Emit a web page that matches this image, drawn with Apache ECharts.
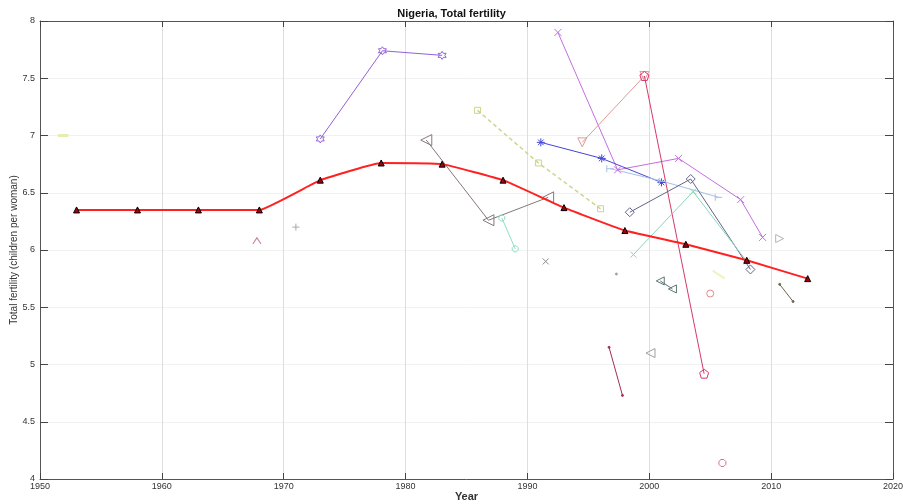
<!DOCTYPE html>
<html><head><meta charset="utf-8">
<script src="https://cdn.jsdelivr.net/npm/echarts@6/dist/echarts.min.js"></script>
<style>html,body{margin:0;padding:0;background:#fff}#c{width:903px;height:504px}</style>
</head><body><div id="c"></div>
<script>
// ---- data ----
const xTicks = [1950,1960,1970,1980,1990,2000,2010,2020];
const yTicks = [4,4.5,5,5.5,6,6.5,7,7.5,8];
const wppYears = [1953,1958,1963,1968,1973,1978,1983,1988,1993,1998,2003,2008,2013];
const wppTFR   = [6.35,6.35,6.35,6.35,6.61,6.76,6.75,6.61,6.37,6.17,6.05,5.91,5.75];
const purpleHex  = [[1973.0,6.97],[1978.1,7.74],[1983.0,7.70]];
const oliveDash  = [[1985.9,7.22],[1990.9,6.76],[1996.0,6.36]];
const limeEarly  = [[1951.9,7.00]];
const grayTri    = [[1981.7,6.96],[1986.8,6.26],[1991.7,6.46]];
const tealShort  = [[1987.9,6.28],[1989.0,6.01]];
const grayX      = [[1991.5,5.90]];
const grayPlus   = [[1971.0,6.20]];
const pinkChev   = [[1967.8,6.08]];
const violetX    = [[1992.5,7.90],[1997.4,6.70],[2002.4,6.80],[2007.5,6.44],[2009.3,6.11]];
const blueStar   = [[1991.1,6.94],[1996.1,6.80],[2001.0,6.59]];
const salmonLine = [[1994.5,6.94],[1999.6,7.52]];
const crimsonLine= [[1999.6,7.52],[2004.5,4.92]];
const lightBlue  = [[1996.8,6.71],[2001.1,6.60],[2005.7,6.46]];
const slateLine  = [[1998.4,6.33],[2003.4,6.62],[2008.3,5.83]];
const tealLine   = [[1998.7,5.96],[2003.6,6.51],[2008.0,5.90]];
const grayTriR   = [[2010.7,6.10]];
const oliveShort = [[2010.7,5.70],[2011.8,5.55]];
const darkRed    = [[1996.7,5.15],[1997.8,4.73]];
const grayTriL2  = [[2000.1,5.10]];
const slateTeal  = [[2000.9,5.73],[2001.9,5.66]];
const salmonCirc = [[2005.0,5.62]];
const roseStar   = [[2006.0,4.14]];
const limeFaint  = [[2005.2,5.82],[2006.2,5.75]];
const grayDot    = [[1997.3,5.79]];

// ---- symbols ----
const SYM = {
  hex: 'path://M0,-10L2.9,-5L8.7,-5L5.8,0L8.7,5L2.9,5L0,10L-2.9,5L-8.7,5L-5.8,0L-8.7,-5L-2.9,-5Z',
  x: 'path://M-5,-5L5,5M5,-5L-5,5',
  plus: 'path://M0,-5L0,5M-5,0L5,0',
  star: 'path://M0,-5L0,5M-5,0L5,0M-3.5,-3.5L3.5,3.5M3.5,-3.5L-3.5,3.5',
  triL: 'path://M-5,0L5,-4L5,4Z',
  triR: 'path://M5,0L-5,-4L-5,4Z',
  triD: 'path://M-5,-4L5,-4L0,5Z',
  chev: 'path://M-4,3L0,-3L4,3',
  tick: 'path://M-4,0L4,0M-4,-4L-4,4',
  pent: 'path://M0,-5L4.8,-1.5L3,4L-3,4L-4.8,-1.5Z',
  oct: 'path://M-2,-5L2,-5L5,-2L5,2L2,5L-2,5L-5,2L-5,-2Z'
};

function mk(data, color, symbol, size, opt) {
  opt = opt || {};
  return {
    type: 'line', data: data, symbol: symbol, symbolSize: size,
    showSymbol: true, silent: true, animation: false,
    lineStyle: { color: color, width: opt.width || 1, type: opt.dash || 'solid', opacity: opt.op || 1 },
    itemStyle: { color: opt.fill || 'rgba(0,0,0,0)', borderColor: color, borderWidth: 1, opacity: opt.op || 1 },
    z: opt.z || 2
  };
}

const series = [
  mk(limeEarly, '#e4eeb0', 'rect', [7,2], {fill:'#e4eeb0'}),
  mk(purpleHex, '#9260d8', SYM.hex, 8),
  mk(oliveDash, '#cdd58a', 'rect', 6, {dash:[4,3], width:1.5}),
  mk(grayTri, '#857878', SYM.triL, 11),
  mk(tealShort, '#8fe0c4', SYM.oct, 6),
  mk(grayX, '#8c8c8c', SYM.x, 6),
  mk(grayPlus, '#a8a8a8', SYM.plus, 7),
  mk(pinkChev, '#c878a8', SYM.chev, [8,6]),
  mk(violetX, '#c46ee0', SYM.x, 7),
  mk(blueStar, '#4545d6', SYM.star, 8),
  mk(salmonLine, '#e09a9a', SYM.triD, 9),
  mk(crimsonLine, '#d8386a', SYM.pent, 9),
  mk(lightBlue, '#a9bfe8', SYM.tick, 7),
  mk(slateLine, '#64648e', 'diamond', 9),
  mk(tealLine, '#86d8b6', SYM.x, 6),
  mk(grayTriR, '#b4b4b4', SYM.triR, 8),
  mk(oliveShort, '#6e6450', 'circle', 2, {fill:'#6e6450'}),
  mk(darkRed, '#a03050', 'circle', 2, {fill:'#a03050'}),
  mk(grayTriL2, '#a0a0a0', SYM.triL, 9),
  mk(slateTeal, '#5e7676', SYM.triL, 8),
  mk(salmonCirc, '#e08a8a', 'circle', 7),
  mk(roseStar, '#d07090', SYM.oct, 7),
  mk(limeFaint, '#eef4c0', 'none', 1, {width:2}),
  mk(grayDot, '#a0a0a0', 'circle', 2, {fill:'#a0a0a0'}),
  {
    type: 'line', data: wppYears.map((y,i)=>[y, wppTFR[i]]),
    symbol: 'triangle', symbolSize: 6, smooth: 0.1, silent: true, animation: false,
    lineStyle: { color: '#ff2020', width: 2 },
    itemStyle: { color: '#a00010', borderColor: '#000', borderWidth: 1 },
    z: 5
  }
];

const font = 'Liberation Sans, Arial, sans-serif';
const chart = echarts.init(document.getElementById('c'), null, {renderer:'canvas'});
chart.setOption({
  animation: false,
  backgroundColor: '#fff',
  title: { text: 'Nigeria, Total fertility', left: 'center', top: 3,
    textStyle: { fontFamily: font, fontSize: 11, fontWeight: 'bold', color: '#111' } },
  grid: { left: 40, right: 10, top: 21, bottom: 25, containLabel: false, outerBoundsMode: 'none' },
  xAxis: [{
    type: 'value', min: xTicks[0], max: xTicks[xTicks.length-1], interval: 10,
    name: 'Year', nameLocation: 'middle', nameGap: 12, nameMoveOverlap: false,
    nameTextStyle: { fontFamily: font, fontSize: 11, fontWeight: 'bold', color: '#333' },
    axisLine: { lineStyle: { color: '#555', width: 1 } },
    axisTick: { inside: true, length: 6, lineStyle: { color: '#444' } },
    axisLabel: { fontFamily: font, fontSize: 9, color: '#333', margin: 3, formatter: v => String(v) },
    splitLine: { show: true, lineStyle: { color: '#dedede', width: 1 } }
  },{
    type: 'value', position: 'top', min: xTicks[0], max: xTicks[xTicks.length-1], interval: 10,
    axisLine: { show: true, lineStyle: { color: '#555' } },
    axisTick: { show: true, inside: true, length: 6, lineStyle: { color: '#444' } },
    axisLabel: { show: false }, splitLine: { show: false }
  }],
  yAxis: [{
    type: 'value', min: yTicks[0], max: yTicks[yTicks.length-1], interval: 0.5,
    name: 'Total fertility (children per woman)', nameLocation: 'middle', nameGap: 21, nameMoveOverlap: false,
    nameTextStyle: { fontFamily: font, fontSize: 10, color: '#333' },
    axisLine: { show: true, lineStyle: { color: '#555', width: 1 } },
    axisTick: { show: true, inside: true, length: 8, lineStyle: { color: '#444' } },
    axisLabel: { fontFamily: font, fontSize: 9, color: '#333', margin: 5 },
    splitLine: { show: true, lineStyle: { color: '#f1f1f1', width: 1 } }
  },{
    type: 'value', position: 'right', min: yTicks[0], max: yTicks[yTicks.length-1], interval: 0.5,
    axisLine: { show: true, lineStyle: { color: '#555' } },
    axisTick: { show: true, inside: true, length: 8, lineStyle: { color: '#444' } },
    axisLabel: { show: false }, splitLine: { show: false }
  }],
  series: series
});
</script>
</body></html>
